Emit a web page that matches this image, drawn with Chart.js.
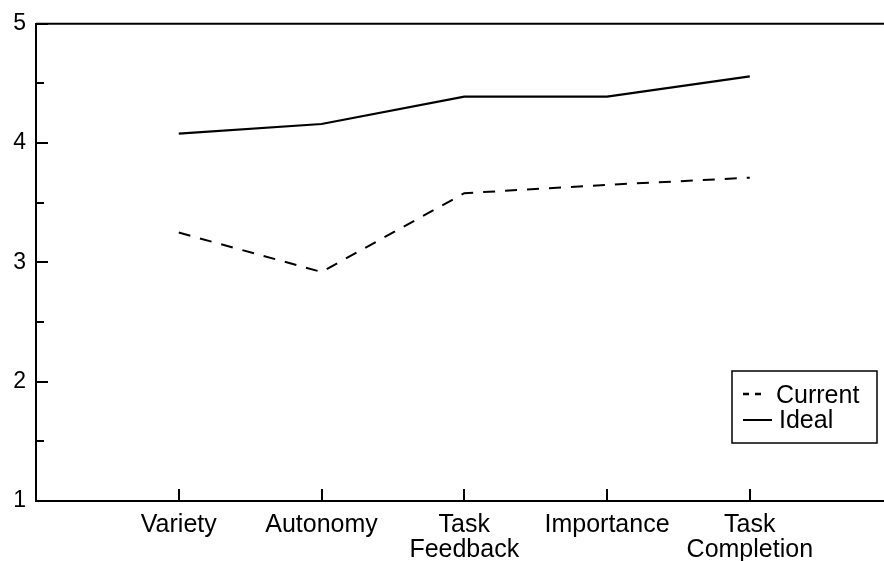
<!DOCTYPE html>
<html>
<head>
<meta charset="utf-8">
<script src="https://cdn.jsdelivr.net/npm/chart.js@4/dist/chart.umd.min.js"></script>
<style>
  html, body { margin: 0; padding: 0; background: #fff; }
  canvas { display: block; }
</style>
</head>
<body>
<canvas id="grafico" width="884" height="561"></canvas>
<script>
// categorias e séries
const categorias = [['Variety'], ['Autonomy'], ['Task', 'Feedback'], ['Importance'], ['Task', 'Completion']];
const posicoes = [1, 2, 3, 4, 5];
const atual = [3.25, 2.92, 3.58, 3.65, 3.71];
const ideal = [4.08, 4.16, 4.39, 4.39, 4.56];
const ticksY = [1, 2, 3, 4, 5];
const nomesSeries = ['Current', 'Ideal'];

const fonte = '"Liberation Sans", Arial, Helvetica, sans-serif';

function pontos(valores) {
    return valores.map((v, i) => ({ x: posicoes[i], y: v }));
}

// marcas de escala para dentro + borda de cima + legenda
const extras = {
    id: 'extras',
    afterDraw(chart) {
        const ctx = chart.ctx;
        const area = chart.chartArea;
        const sx = chart.scales.x;
        const sy = chart.scales.y;
        ctx.save();
        ctx.strokeStyle = '#000';
        ctx.lineWidth = 2;

        // borda superior
        ctx.beginPath();
        ctx.moveTo(area.left, area.top);
        ctx.lineTo(area.right, area.top);
        ctx.stroke();

        // ticks do eixo y (inteiros e meios)
        for (let v = 1; v <= 5; v += 0.5) {
            const y = Math.round(sy.getPixelForValue(v));
            const len = Number.isInteger(v) ? 12 : 8;
            ctx.beginPath();
            ctx.moveTo(area.left, y);
            ctx.lineTo(area.left + len, y);
            ctx.stroke();
        }

        // ticks do eixo x
        posicoes.forEach(p => {
            const x = Math.round(sx.getPixelForValue(p));
            ctx.beginPath();
            ctx.moveTo(x, area.bottom);
            ctx.lineTo(x, area.bottom - 12);
            ctx.stroke();
        });

        // legenda
        ctx.lineWidth = 1.5;
        ctx.strokeRect(732, 371, 145, 72);
        ctx.lineWidth = 2.5;
        ctx.setLineDash([6, 6]);
        ctx.beginPath();
        ctx.moveTo(743, 394);
        ctx.lineTo(762, 394);
        ctx.stroke();
        ctx.setLineDash([]);
        ctx.lineWidth = 2;
        ctx.beginPath();
        ctx.moveTo(743, 420);
        ctx.lineTo(772, 420);
        ctx.stroke();

        ctx.fillStyle = '#000';
        ctx.font = '25px ' + fonte;
        ctx.textAlign = 'left';
        ctx.textBaseline = 'alphabetic';
        ctx.fillText(nomesSeries[0], 776, 403);
        ctx.fillText(nomesSeries[1], 779, 428);
        ctx.restore();
    }
};

new Chart(document.getElementById('grafico').getContext('2d'), {
    type: 'line',
    data: {
        datasets: [{
            label: nomesSeries[0],
            data: pontos(atual),
            borderColor: '#000',
            borderWidth: 2,
            borderDash: [12, 10],
            pointRadius: 0,
            tension: 0,
            fill: false
        }, {
            label: nomesSeries[1],
            data: pontos(ideal),
            borderColor: '#000',
            borderWidth: 2.2,
            pointRadius: 0,
            tension: 0,
            fill: false
        }]
    },
    options: {
        responsive: false,
        animation: false,
        layout: { padding: { top: 21, left: 0, right: 0, bottom: 0 } },
        plugins: {
            legend: { display: false },
            tooltip: { enabled: false }
        },
        scales: {
            x: {
                type: 'linear',
                min: 0,
                max: 5.94,
                afterBuildTicks: function(scale) {
                    scale.ticks = posicoes.map(p => ({ value: p }));
                },
                afterFit: function(scale) { scale.height = 60; },
                grid: { display: false, drawTicks: false },
                border: { color: '#000', width: 2 },
                ticks: {
                    autoSkip: false,
                    maxRotation: 0,
                    padding: 12,
                    color: '#000',
                    font: { family: fonte, size: 25, lineHeight: 1.0 },
                    callback: function(value) {
                        const i = posicoes.indexOf(value);
                        return i >= 0 ? categorias[i] : '';
                    }
                }
            },
            y: {
                min: 1,
                max: 5,
                afterBuildTicks: function(scale) {
                    scale.ticks = ticksY.map(v => ({ value: v }));
                },
                afterFit: function(scale) { scale.width = 36; },
                grid: { display: false, drawTicks: false },
                border: { color: '#000', width: 2 },
                ticks: {
                    padding: 10,
                    color: '#000',
                    font: { family: fonte, size: 23 }
                }
            }
        }
    },
    plugins: [extras]
});
</script>
</body>
</html>
